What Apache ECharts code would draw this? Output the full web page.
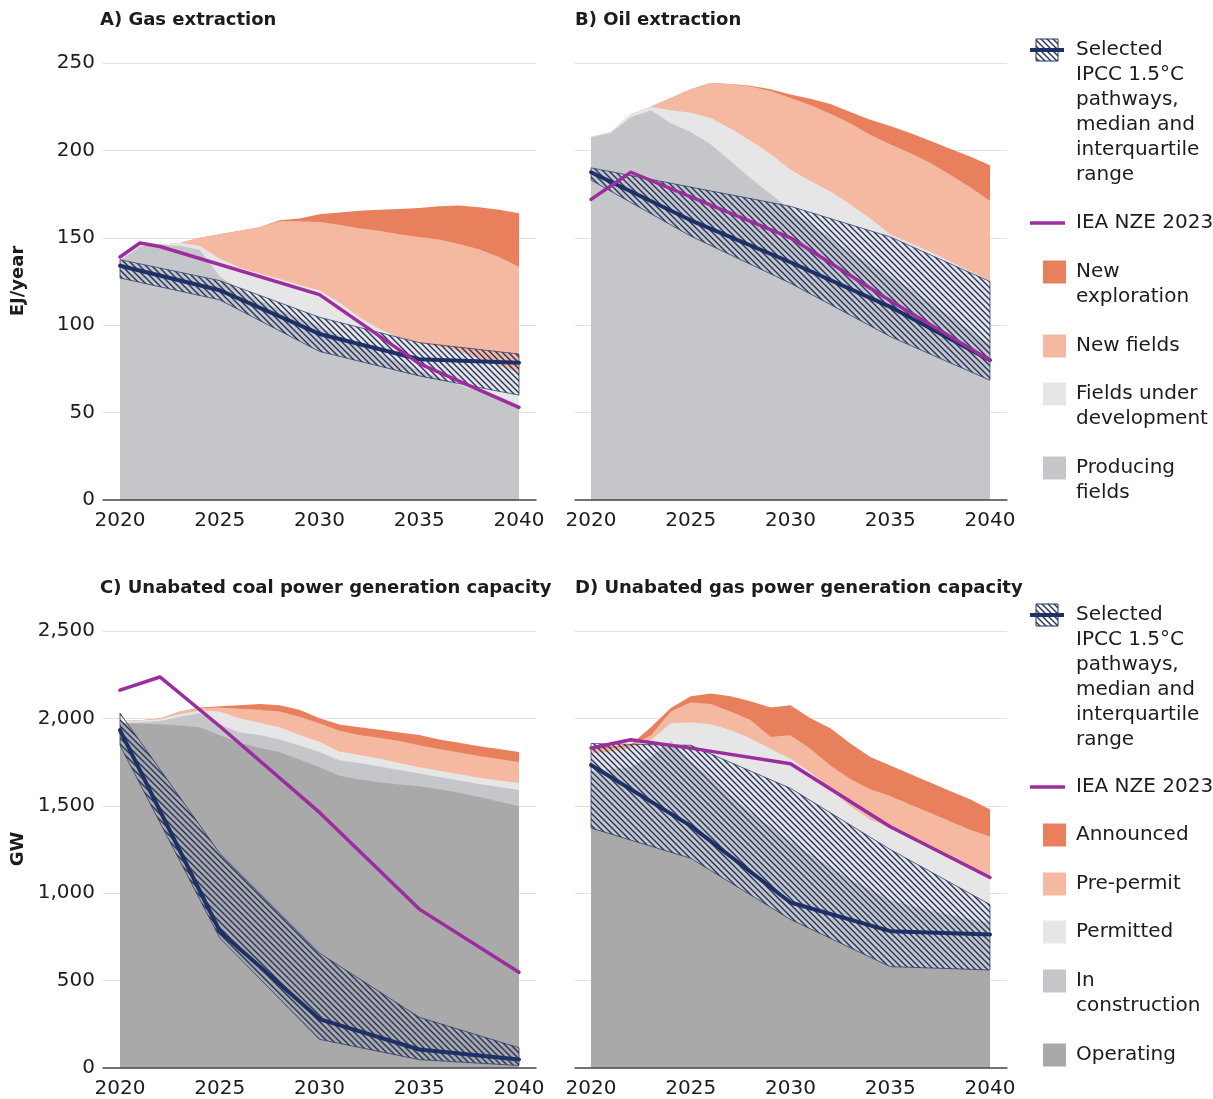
<!DOCTYPE html>
<html>
<head>
<meta charset="utf-8">
<script src="https://cdn.jsdelivr.net/npm/echarts@6/dist/echarts.min.js"></script>
<style>html,body{margin:0;padding:0;background:#fff}#c{width:1213px;height:1099px}</style>
</head>
<body>
<div id="c"></div>
<script>
// ---------- shared x values ----------
const years = [2020,2021,2022,2023,2024,2025,2026,2027,2028,2029,2030,2031,2032,2033,2034,2035,2036,2037,2038,2039,2040];
const years5 = [2020,2025,2030,2035,2040];
const tickYears = [2020,2025,2030,2035,2040];

// ---------- A) Gas extraction (EJ/year), cumulative tops of each layer ----------
const gasNewExploration = [137,145,146,147,150,152,154,156,160,161,163.5,164.5,165.5,166,166.5,167,168,168.5,167.5,166,164];
const gasNewFields      = [137,145,146,147,150,152,154,156,159.5,159.5,159,157.5,155.5,154,152,150.5,149,146.5,143.5,139,133.5];
const gasUnderDev       = [137,145,146,147,145.5,138,133,129.5,126.5,123,120,113,104.5,98,93,90,88,85,81,77,73];
const gasProducing      = [137,145,146,145.5,143,128,120,114,109,104,99,94,89,84,79,74,70,66,62,57.5,53];
const gasIpccLow    = [127,114.5,85,71,60];
const gasIpccHigh   = [137.5,125.5,104.5,90,83.5];
const gasIpccMedian = [134,120,95,80.5,78.5];
const gasNzeYears = [2020,2021,2022,2030,2035,2040];
const gasNze      = [139,147,145,117.5,78,53];

// ---------- B) Oil extraction (EJ/year) ----------
const oilNewExploration = [207.5,210.5,220.5,225,230,235,238.5,238,237,235,232,229.5,226.5,222,217.5,214,210,205.5,201,196.5,191.5];
const oilNewFields      = [207.5,210.5,220.5,225,230,235,238.5,238,236.5,234,230,226,221,215.5,209,203.5,198.5,193,186,179,171];
const oilUnderDev       = [207.5,210.5,220.5,225,223,221.5,218.5,212.5,205.5,198,189,182.5,176.5,169,161,152,147,142,136.5,131,125.5];
const oilProducing      = [207.5,210,219,223,215.5,210.5,203.5,194,184,175,166,158,150,142,135,128,121,113,105,97,89];
const oilIpccLow    = [183,151,124,93.5,68.5];
const oilIpccHigh   = [190,179,168,150.5,125];
const oilIpccMedian = [187.5,160,136,110.5,80];
const oilNzeYears = [2020,2022,2030,2035,2040];
const oilNze      = [172,187.5,150,114,80];

// ---------- C) Unabated coal power capacity (GW) ----------
const coalAnnounced    = [1985,1990,2000,2040,2062,2069,2075,2082,2075,2050,2001,1965,1950,1935,1920,1905,1880,1860,1840,1825,1808];
const coalPrePermit    = [1985,1990,2000,2040,2060,2063,2055,2050,2040,2010,1972,1930,1905,1890,1870,1846,1825,1805,1785,1768,1750];
const coalPermitted    = [1985,1988,1995,2025,2045,2040,2000,1975,1950,1905,1866,1810,1790,1770,1745,1721,1700,1680,1660,1645,1630];
const coalConstruction = [1975,1978,1985,2010,2030,1965,1920,1905,1880,1845,1808,1760,1745,1725,1705,1685,1665,1645,1625,1608,1591];
const coalOperating    = [1972,1970,1966,1960,1950,1904,1860,1830,1808,1765,1721,1672,1650,1635,1622,1612,1595,1575,1550,1525,1498];
const coalIpccLow    = [1846,744,164,48,14];
const coalIpccHigh   = [2030,1228,657,290,116];
const coalIpccMedian = [1933,783,280,106,48];
const coalNzeYears = [2020,2022,2025,2030,2035,2040];
const coalNze      = [2162,2237,1955,1462,909,548];

// ---------- D) Unabated gas power capacity (GW) ----------
const gpAnnounced    = [1840,1840,1850,1950,2060,2127,2142,2127,2098,2063,2075,2001,1943,1856,1779,1730,1682,1634,1585,1537,1479];
const gpPrePermit    = [1820,1830,1845,1904,2040,2092,2082,2040,1991,1895,1904,1827,1730,1653,1595,1556,1508,1460,1411,1363,1324];
const gpPermitted    = [1800,1810,1830,1876,1972,1978,1966,1933,1885,1827,1769,1692,1595,1498,1421,1373,1324,1266,1208,1150,1083];
const gpConstruction = [1700,1710,1720,1780,1870,1750,1660,1560,1460,1380,1300,1220,1150,1080,1020,960,930,900,875,850,830];
const gpOperating    = [1373,1200,850,580,561];   // at years5
const gpIpccLow    = [1373,1200,850,580,561];
const gpIpccHigh   = [1856,1846,1600,1250,935];
const gpIpccMedian = [1733,1385,947,783,764];
const gpNzeYears = [2020,2022,2025,2030,2035,2040];
const gpNze      = [1831,1878,1830,1740,1380,1090];

// ---------- styles ----------
const FF = 'DejaVu Sans';
const navy = '#1e3166', purple = '#9c2d9f';
const cExpl = '#e8805d', cNew = '#f4b9a0', cDev = '#e6e6e7', cProd = '#c4c6c9', cOper = '#a9a9a9';
const txt = '#1c1c1c';

function makeHatch() {
  const s = 6, c = document.createElement('canvas');
  c.width = s; c.height = s;
  const g = c.getContext('2d');
  g.strokeStyle = '#27345e'; g.lineWidth = 1.4;
  for (let k = -1; k <= 1; k++) {
    g.beginPath(); g.moveTo(k * s - s, -s); g.lineTo(k * s + 2 * s, 2 * s); g.stroke();
  }
  return c;
}
const hatch = makeHatch();
const hatchFill = () => ({ image: hatch, repeat: 'repeat' });

const grids = [
  { left: 103, top: 63, width: 433, height: 437 },
  { left: 575, top: 63, width: 432, height: 437 },
  { left: 103, top: 631, width: 433, height: 437 },
  { left: 575, top: 631, width: 432, height: 437 }
];
const xRanges = [[2019.148, 2040.852], [2019.198, 2040.852], [2019.148, 2040.852], [2019.198, 2040.852]];
const yMax = [250, 250, 2500, 2500];
const yStep = [50, 50, 500, 500];

const xAxes = grids.map((g, i) => ({
  type: 'value', gridIndex: i, min: xRanges[i][0], max: xRanges[i][1], z: 10,
  axisLine: { show: true, onZero: false, lineStyle: { color: '#4a4a4a', width: 1.5 } },
  axisTick: { show: false }, splitLine: { show: false },
  axisLabel: { customValues: tickYears, formatter: v => String(v), fontSize: 20, color: txt, margin: 11, fontFamily: FF }
}));
const yAxes = grids.map((g, i) => ({
  type: 'value', gridIndex: i, min: 0, max: yMax[i], interval: yStep[i],
  axisLine: { show: false }, axisTick: { show: false },
  splitLine: { lineStyle: { color: '#e1e1e3', width: 1 } },
  axisLabel: { show: i % 2 === 0, fontSize: 20, color: txt, margin: 8, fontFamily: FF }
}));

function area(gi, xs, ys, color) {
  return { type: 'line', z: 3, xAxisIndex: gi, yAxisIndex: gi, data: xs.map((x, k) => [x, ys[k]]),
    symbol: 'none', silent: true, lineStyle: { width: 0, opacity: 0 }, areaStyle: { color: color, opacity: 1 } };
}
// interquartile band: polygon between low and high, placed through the axes' own scales
function band(gi, lo, hi) {
  return { type: 'custom', z: 4, xAxisIndex: gi, yAxisIndex: gi, silent: true, clip: true,
    data: [[years5[0], lo[0]]],
    renderItem: function (params, api) {
      const top = years5.map((x, k) => api.coord([x, hi[k]]));
      const bot = years5.map((x, k) => api.coord([x, lo[k]])).reverse();
      return { type: 'polygon', shape: { points: top.concat(bot) },
        style: { fill: hatchFill(), stroke: 'rgba(30,49,102,0.7)', lineWidth: 1 } };
    } };
}
function line(gi, xs, ys, color, w, z) {
  return { type: 'line', z: z, xAxisIndex: gi, yAxisIndex: gi, data: xs.map((x, k) => [x, ys[k]]),
    symbol: 'none', silent: true, lineStyle: { color: color, width: w, join: 'round', cap: 'round' } };
}

const series = [
  area(0, years, gasNewExploration, cExpl), area(0, years, gasNewFields, cNew),
  area(0, years, gasUnderDev, cDev), area(0, years, gasProducing, cProd),
  band(0, gasIpccLow, gasIpccHigh),
  line(0, years5, gasIpccMedian, navy, 4, 5), line(0, gasNzeYears, gasNze, purple, 3.5, 6),

  area(1, years, oilNewExploration, cExpl), area(1, years, oilNewFields, cNew),
  area(1, years, oilUnderDev, cDev), area(1, years, oilProducing, cProd),
  band(1, oilIpccLow, oilIpccHigh),
  line(1, years5, oilIpccMedian, navy, 4, 5), line(1, oilNzeYears, oilNze, purple, 3.5, 6),

  area(2, years, coalAnnounced, cExpl), area(2, years, coalPrePermit, cNew),
  area(2, years, coalPermitted, cDev), area(2, years, coalConstruction, cProd),
  area(2, years, coalOperating, cOper),
  band(2, coalIpccLow, coalIpccHigh),
  line(2, years5, coalIpccMedian, navy, 4, 5), line(2, coalNzeYears, coalNze, purple, 3.5, 6),

  area(3, years, gpAnnounced, cExpl), area(3, years, gpPrePermit, cNew),
  area(3, years, gpPermitted, cDev), area(3, years, gpConstruction, cProd),
  area(3, years5, gpOperating, cOper),
  band(3, gpIpccLow, gpIpccHigh),
  line(3, years5, gpIpccMedian, navy, 4, 5), line(3, gpNzeYears, gpNze, purple, 3.5, 6)
];

// ---------- text & legends ----------
function t(text, x, y, opts) {
  return Object.assign({ type: 'text', x: x, y: y, silent: true,
    style: Object.assign({ text: text, fontSize: 20, fontFamily: FF, fill: txt, verticalAlign: 'middle', align: 'left' }, (opts && opts.style) || {}) },
    opts && opts.rotation !== undefined ? { rotation: opts.rotation } : {});
}
function multi(lines, x, firstCenter) {
  return { type: 'text', x: x, y: firstCenter - 12.5, silent: true,
    style: { text: lines.join('\n'), fontSize: 20, fontFamily: FF, fill: txt, lineHeight: 25, verticalAlign: 'top', align: 'left' } };
}
function sq(color, cy) {
  return { type: 'rect', silent: true, shape: { x: 1043, y: cy - 11.5, width: 23, height: 23 }, style: { fill: color } };
}
function bandIcon(cy) {
  return [
    { type: 'rect', silent: true, shape: { x: 1036, y: cy - 11, width: 22, height: 22 }, style: { fill: hatchFill(), stroke: navy, lineWidth: 1 } },
    { type: 'line', silent: true, shape: { x1: 1030, y1: cy, x2: 1064, y2: cy }, style: { stroke: navy, lineWidth: 4 } }
  ];
}
function nzeIcon(cy) {
  return { type: 'line', silent: true, shape: { x1: 1030, y1: cy, x2: 1065, y2: cy }, style: { stroke: purple, lineWidth: 3.5 } };
}
const bold = { style: { fontSize: 18, fontWeight: 'bold' } };
const ipccLines = ['Selected', 'IPCC 1.5\u00B0C', 'pathways,', 'median and', 'interquartile', 'range'];

const graphic = [
  t('A) Gas extraction', 100, 20, bold),
  t('B) Oil extraction', 575, 20, bold),
  t('C) Unabated coal power generation capacity', 100, 588, bold),
  t('D) Unabated gas power generation capacity', 575, 588, bold),
  t('EJ/year', 18, 281, { rotation: Math.PI / 2, style: { fontSize: 18, fontWeight: 'bold', align: 'center' } }),
  t('GW', 18, 849, { rotation: Math.PI / 2, style: { fontSize: 18, fontWeight: 'bold', align: 'center' } }),

  ...bandIcon(50), multi(ipccLines, 1076, 50),
  nzeIcon(223), t('IEA NZE 2023', 1076, 223),
  sq(cExpl, 272), multi(['New', 'exploration'], 1076, 272),
  sq(cNew, 346), t('New fields', 1076, 346),
  sq(cDev, 394), multi(['Fields under', 'development'], 1076, 394),
  sq(cProd, 468), multi(['Producing', 'fields'], 1076, 468),

  ...bandIcon(615), multi(ipccLines, 1076, 615),
  nzeIcon(787), t('IEA NZE 2023', 1076, 787),
  sq(cExpl, 835), t('Announced', 1076, 835),
  sq(cNew, 884), t('Pre-permit', 1076, 884),
  sq(cDev, 932), t('Permitted', 1076, 932),
  sq(cProd, 981), multi(['In', 'construction'], 1076, 981),
  sq(cOper, 1055), t('Operating', 1076, 1055)
];

const chart = echarts.init(document.getElementById('c'), null, { renderer: 'canvas' });
chart.setOption({
  animation: false,
  backgroundColor: '#ffffff',
  textStyle: { fontFamily: FF },
  grid: grids,
  xAxis: xAxes,
  yAxis: yAxes,
  series: series,
  graphic: graphic
});
</script>
</body>
</html>
